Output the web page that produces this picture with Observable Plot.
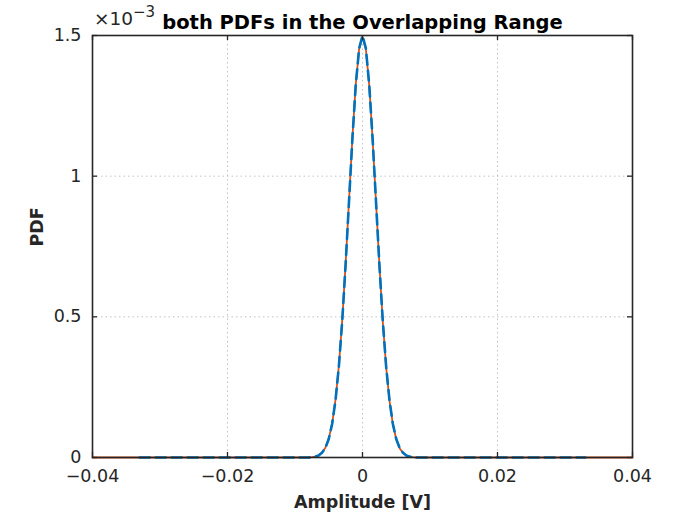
<!DOCTYPE html>
<html>
<head>
<meta charset="utf-8">
<script src="https://cdn.jsdelivr.net/npm/d3@7"></script>
<script src="https://cdn.jsdelivr.net/npm/@observablehq/plot@0.6"></script>
<style>
  html, body { margin: 0; padding: 0; background: #fff; }
  #chart { width: 677px; height: 520px; }
</style>
</head>
<body>
<div id="chart"></div>
<script>
// Data (PDF values in units of 1e-3)
const amplitude = [-0.04, -0.033, -0.02, -0.012, -0.01, -0.008, -0.0075, -0.007, -0.0065, -0.006, -0.0055, -0.005, -0.0045, -0.004, -0.0035, -0.003, -0.0025, -0.002, -0.0015, -0.001, -0.0005, 0, 0.0005, 0.001, 0.0015, 0.002, 0.0025, 0.003, 0.0035, 0.004, 0.0045, 0.005, 0.0055, 0.006, 0.0065, 0.007, 0.0075, 0.008, 0.01, 0.012, 0.02, 0.033, 0.04];
const pdfOrange = [0, 0, 0, 0, 0, 0, 0.001, 0.003, 0.008, 0.018, 0.035, 0.067, 0.120, 0.205, 0.326, 0.489, 0.690, 0.912, 1.135, 1.326, 1.452, 1.495, 1.452, 1.322, 1.130, 0.908, 0.685, 0.485, 0.322, 0.201, 0.118, 0.065, 0.033, 0.016, 0.007, 0.003, 0.001, 0, 0, 0, 0, 0, 0];
const pdfBlue   = [null, 0, 0, 0, 0, 0, 0.001, 0.003, 0.007, 0.017, 0.034, 0.066, 0.119, 0.203, 0.324, 0.487, 0.687, 0.910, 1.132, 1.324, 1.454, 1.500, 1.454, 1.324, 1.132, 0.910, 0.687, 0.487, 0.324, 0.203, 0.119, 0.066, 0.034, 0.017, 0.007, 0.003, 0.001, 0, 0, 0, 0, 0, null];
const xTicks = [-0.04, -0.02, 0, 0.02, 0.04];
const yTicks = [0, 0.5, 1, 1.5];
const titleText = "both PDFs in the Overlapping Range";
const xLabel = "Amplitude [V]";
const yLabel = "PDF";

const orangeData = amplitude.map((x, i) => ({x, y: pdfOrange[i]}));
const blueData = amplitude.map((x, i) => ({x, y: pdfBlue[i]}));

const W = 677, H = 520;
const mL = 92, mR = 45, mT = 35, mB = 63;
const plotW = W - mL - mR, plotH = H - mT - mB;
const tickLen = 5;
const axisColor = "#262626";
const gridStyle = {stroke: "#bdbdbd", strokeDasharray: "1.5,3", strokeWidth: 1, strokeOpacity: 0.9};
const fmtX = d => d === 0 ? "0" : d3.format(".2f")(d).replace("-", "\u2212");
const fmtY = d => String(d);

const chart = Plot.plot({
  width: W, height: H,
  marginLeft: mL, marginRight: mR, marginTop: mT, marginBottom: mB,
  style: {fontFamily: "DejaVu Sans, sans-serif", fontSize: "17px", color: axisColor, background: "#fff"},
  x: {domain: [-0.04, 0.04], ticks: xTicks, tickFormat: fmtX, label: null},
  y: {domain: [0, 1.5], ticks: yTicks, tickFormat: fmtY, label: null},
  marks: [
    Plot.ruleX(xTicks.slice(1, -1), {...gridStyle}),
    Plot.ruleY(yTicks.slice(1, -1), {...gridStyle}),
    Plot.line(orangeData, {x: "x", y: "y", stroke: "#D95319", strokeWidth: 1.8}),
    Plot.line(blueData, {x: "x", y: "y", stroke: "#0072BD", strokeWidth: 2.6, strokeDasharray: "10,6"}),
    // inward ticks on all four sides
    Plot.ruleX(xTicks, {stroke: axisColor, strokeWidth: 1.3, insetTop: plotH - tickLen}),
    Plot.ruleX(xTicks, {stroke: axisColor, strokeWidth: 1.3, insetBottom: plotH - tickLen}),
    Plot.ruleY(yTicks, {stroke: axisColor, strokeWidth: 1.3, insetRight: plotW - tickLen}),
    Plot.ruleY(yTicks, {stroke: axisColor, strokeWidth: 1.3, insetLeft: plotW - tickLen}),
    Plot.frame({stroke: axisColor, strokeWidth: 1.6}),
    Plot.axisX(xTicks, {tickSize: 0, tickPadding: 12, tickFormat: fmtX, fontSize: 17.5, fill: axisColor, label: null}),
    Plot.axisY(yTicks, {tickSize: 0, tickPadding: 11, tickFormat: fmtY, fontSize: 17.5, fill: axisColor, label: null}),
    Plot.text([xLabel], {frameAnchor: "bottom", dy: 50, text: d => d, fontSize: 17.5, fontWeight: "bold", fill: axisColor}),
    Plot.text([yLabel], {frameAnchor: "left", dx: -55, rotate: -90, text: d => d, fontSize: 17.5, fontWeight: "bold", fill: axisColor}),
    Plot.text([titleText], {frameAnchor: "top", dy: -20, text: d => d, fontSize: 19.5, fontWeight: "bold", fill: "#000"})
  ]
});

document.getElementById("chart").appendChild(chart);

// exponent label (x10^-3) above the y axis
const svg = d3.select(chart);
const exp = svg.append("text")
  .attr("x", mL + 2).attr("y", 25)
  .attr("text-anchor", "start")
  .attr("font-family", "DejaVu Sans, sans-serif")
  .attr("font-size", 18.5)
  .attr("fill", axisColor);
exp.append("tspan").text("\u00d710");
exp.append("tspan").attr("dy", -8).attr("font-size", 15).text("\u22123");
</script>
</body>
</html>
